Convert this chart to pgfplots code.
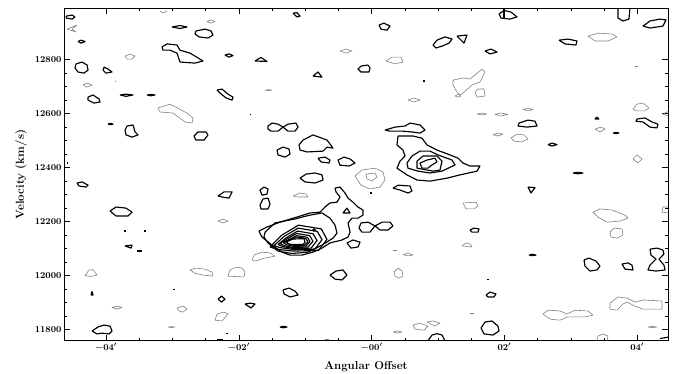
\documentclass[border=0pt]{standalone}
\usepackage{pgfplots}
\pgfplotsset{compat=1.18}
\begin{document}
\begin{tikzpicture}
\path[use as bounding box] (-64pt,-32.3pt) rectangle (610pt,340.7pt);
\begin{axis}[width=604pt, height=332.4pt, scale only axis,
 xmin=-4.633, xmax=4.464, ymin=11758, ymax=12989,
 xtick={-4,-2,0,2,4}, xticklabels={$-04'$,$-02'$,$-00'$,$02'$,$04'$},
 ytick={11800,12000,12200,12400,12600,12800},
 minor x tick num=3, minor y tick num=3,
 scaled y ticks=false,
 yticklabel style={/pgf/number format/1000 sep={}, font=\boldmath\fontsize{9}{11}\selectfont, xshift=1pt},
 xticklabel style={font=\boldmath\fontsize{9}{11}\selectfont, yshift=1pt},
 tick align=inside, major tick length=6pt, minor tick length=3pt,
 tick style={black, line width=0.6pt},
 axis line style={line width=0.9pt},
 xlabel={Angular Offset}, ylabel={Velocity (km/s)},
 label style={font=\bfseries\fontsize{11.5}{13}\selectfont},
 xlabel style={at={(axis description cs:0.5,-0.0767)}, anchor=center},
 ylabel style={at={(axis description cs:-0.0712,0.5)}, anchor=center},
 pos/.style={black, line width=1.15pt, line join=round, mark=none},
 neg/.style={black!50, line width=0.6pt, line join=round, mark=none},
 ]
% ---------- positive (black) contours ----------
\addplot[pos] coordinates {(-4.60,12960)(-4.51,12964)(-4.47,12957)(-4.51,12949)(-4.60,12953)(-4.60,12960)};
\addplot[pos] coordinates {(-4.422,12866)(-4.377,12871)(-4.316,12866)(-4.377,12860)(-4.422,12866)};
\addplot[pos] coordinates {(-4.452,12783)(-4.361,12790)(-4.286,12779)(-4.271,12760)(-4.331,12749)(-4.422,12753)(-4.467,12768)(-4.452,12783)};
\addplot[pos] coordinates {(-4.030,12771)(-3.970,12764)(-3.910,12753)(-4.0,12749)(-4.045,12760)(-4.030,12771)};
\addplot[pos] coordinates {(-4.271,12660)(-4.196,12668)(-4.105,12653)(-4.090,12642)(-4.181,12638)(-4.271,12649)(-4.271,12660)};
\addplot[pos] coordinates {(-3.789,12668)(-3.699,12671)(-3.593,12668)(-3.699,12663)(-3.789,12668)};
\addplot[pos] coordinates {(-3.383,12668)(-3.322,12670)(-3.262,12668)(-3.322,12665)(-3.383,12668)};
\addplot[pos] coordinates {(-3.970,12560)(-3.932,12563)(-3.895,12560)(-3.932,12558)(-3.970,12560)};
\addplot[pos] coordinates {(-3.714,12538)(-3.684,12553)(-3.593,12557)(-3.563,12531)(-3.518,12520)(-3.608,12512)(-3.699,12520)(-3.714,12538)};
\addplot[pos] coordinates {(-2.675,12516)(-2.614,12531)(-2.494,12531)(-2.464,12520)(-2.524,12501)(-2.645,12501)(-2.675,12516)};
\addplot[pos] coordinates {(-3.157,12846)(-3.081,12857)(-2.931,12853)(-2.886,12834)(-2.735,12823)(-2.539,12794)(-2.660,12786)(-2.886,12790)(-2.931,12823)(-3.036,12834)(-3.142,12834)(-3.157,12846)};
\addplot[pos] coordinates {(-3.006,12920)(-2.886,12925)(-2.780,12920)(-2.886,12914)(-3.006,12920)};
\addplot[pos] coordinates {(-2.645,12905)(-2.509,12912)(-2.419,12905)(-2.389,12890)(-2.464,12879)(-2.599,12883)(-2.660,12894)(-2.645,12905)};
\addplot[pos] coordinates {(-2.208,12816)(-2.148,12820)(-2.087,12814)(-2.148,12808)(-2.208,12816)};
\addplot[pos] coordinates {(-1.756,12794)(-1.666,12807)(-1.575,12792)(-1.756,12794)};
\addplot[pos] coordinates {(-2.328,12686)(-2.253,12690)(-2.163,12671)(-2.087,12660)(-2.102,12649)(-2.193,12657)(-2.283,12675)(-2.328,12686)};
\addplot[pos] coordinates {(-1.839,12597)(-1.816,12597)};
\addplot[pos] coordinates {(-1.334,12549)(-1.410,12560)(-1.500,12564)(-1.560,12553)(-1.560,12542)(-1.515,12534)(-1.410,12534)(-1.334,12549)(-1.259,12560)(-1.139,12564)(-1.108,12549)(-1.154,12534)(-1.259,12534)(-1.334,12549)};
\addplot[pos] coordinates {(-1.093,12483)(-1.033,12501)(-0.883,12520)(-0.672,12501)(-0.581,12471)(-0.672,12475)(-0.732,12460)(-0.973,12457)(-1.078,12464)(-1.093,12483)};
\addplot[pos] coordinates {(-1.425,12464)(-1.334,12475)(-1.244,12468)(-1.229,12449)(-1.304,12438)(-1.410,12446)(-1.425,12464)};
\addplot[pos] coordinates {(-0.807,12434)(-0.702,12438)(-0.627,12427)(-0.642,12416)(-0.762,12420)(-0.807,12434)};
\addplot[pos] coordinates {(-0.506,12427)(-0.416,12438)(-0.325,12431)(-0.250,12416)(-0.340,12405)(-0.476,12408)(-0.506,12427)};
\addplot[pos] coordinates {(-1.184,12971)(-1.124,12973)(-1.078,12960)(-1.124,12957)(-1.184,12971)};
\addplot[pos] coordinates {(-0.883,12738)(-0.807,12753)(-0.747,12734)(-0.883,12738)};
\addplot[pos] coordinates {(-0.054,12779)(-0.160,12775)(-0.205,12764)(-0.160,12753)(-0.039,12753)(-0.024,12768)(-0.054,12779)};
\addplot[pos] coordinates {(-4.595,12416)(-4.572,12416)};
\addplot[pos] coordinates {(0.111,12927)(0.186,12934)(0.277,12923)(0.232,12908)(0.141,12912)(0.111,12927)};
\addplot[pos] coordinates {(1.919,12968)(1.994,12981)(2.099,12975)(2.190,12957)(2.084,12949)(1.949,12953)(1.919,12968)};
\addplot[pos] coordinates {(1.994,12989)(1.994,12953)};
\addplot[pos] coordinates {(0.925,12853)(0.985,12871)(1.105,12883)(1.211,12875)(1.166,12860)(1.060,12849)(0.970,12842)(0.925,12853)};
\addplot[pos] coordinates {(1.286,12886)(1.437,12890)(1.391,12860)(1.286,12886)};
\addplot[pos] coordinates {(1.708,12831)(1.798,12838)(1.889,12827)(1.783,12820)(1.708,12831)};
\addplot[pos] coordinates {(0.774,12720)(0.804,12720)};
\addplot[pos] coordinates {(2.220,12564)(2.355,12575)(2.461,12571)(2.491,12553)(2.340,12549)(2.205,12553)(2.220,12564)};
\addplot[pos] coordinates {(2.657,12484)(2.717,12490)(2.792,12484)(2.717,12479)(2.657,12484)};
\addplot[pos] coordinates {(2.822,12871)(2.958,12875)(3.093,12868)(3.078,12853)(2.913,12857)(2.822,12871)};
\addplot[pos] coordinates {(3.711,12989)(3.711,12953)(3.786,12942)(3.876,12949)(3.891,12989)};
\addplot[pos] coordinates {(4.087,12923)(4.193,12942)(4.343,12949)(4.434,12946)(4.388,12923)(4.193,12916)(4.087,12923)};
\addplot[pos] coordinates {(3.364,12579)(3.394,12586)(3.424,12579)(3.364,12579)};
\addplot[pos] coordinates {(3.997,12579)(4.117,12583)(4.223,12568)(4.313,12560)(4.298,12546)(4.193,12549)(4.087,12568)(3.982,12571)(3.997,12579)};
\addplot[pos] coordinates {(3.635,12527)(3.681,12529)(3.726,12527)(3.681,12525)(3.635,12527)};
% central-right source
\addplot[pos] coordinates {(0.202,12538)(0.352,12549)(0.503,12553)(0.578,12564)(0.729,12557)(0.804,12538)(0.729,12527)(0.608,12531)(0.473,12534)(0.277,12534)(0.202,12538)};
\addplot[pos] coordinates {(0.398,12516)(0.623,12516)(0.759,12508)(0.834,12483)(0.985,12464)(1.181,12446)(1.301,12434)(1.376,12416)(1.482,12405)(1.632,12405)(1.587,12386)(1.331,12372)(1.135,12360)(0.879,12349)(0.684,12353)(0.533,12372)(0.382,12397)(0.428,12423)(0.503,12442)(0.473,12464)(0.382,12483)(0.398,12516)};
\addplot[pos] coordinates {(0.608,12442)(0.729,12460)(0.879,12460)(1.000,12446)(1.211,12427)(1.256,12409)(1.060,12386)(0.879,12379)(0.698,12386)(0.548,12397)(0.533,12416)(0.608,12442)};
\addplot[pos] coordinates {(0.684,12423)(0.774,12442)(0.985,12442)(1.060,12423)(1.030,12390)(0.925,12386)(0.834,12390)(0.684,12397)(0.684,12423)};
\addplot[pos] coordinates {(0.729,12416)(0.834,12427)(0.955,12434)(0.985,12420)(0.910,12409)(0.849,12397)(0.759,12397)(0.729,12416)};
% main source
\addplot[pos] coordinates {(-0.551,12323)(-0.476,12327)(-0.401,12305)(-0.355,12286)(-0.280,12271)(-0.205,12253)(-0.130,12242)(-0.130,12223)(-0.205,12212)(-0.295,12212)(-0.355,12194)(-0.325,12160)(-0.355,12142)(-0.446,12131)(-0.627,12120)(-0.747,12101)(-0.883,12086)(-1.048,12075)(-1.229,12075)(-1.349,12086)(-1.500,12112)(-1.651,12142)(-1.696,12164)(-1.575,12179)(-1.380,12197)(-1.124,12216)(-0.928,12231)(-0.777,12234)(-0.702,12253)(-0.627,12268)(-0.521,12271)(-0.476,12290)(-0.536,12309)(-0.551,12323)};
\addplot[pos] coordinates {(-1.605,12160)(-1.455,12194)(-1.154,12209)(-0.928,12223)(-0.747,12231)(-0.627,12212)(-0.551,12186)(-0.521,12157)(-0.581,12138)(-0.747,12112)(-0.958,12086)(-1.199,12081)(-1.410,12090)(-1.560,12120)(-1.621,12142)(-1.605,12160)};
\addplot[pos] coordinates {(-1.530,12105)(-1.359,12148)(-1.101,12186)(-0.758,12172)(-0.672,12133)(-0.800,12092)(-1.187,12090)(-1.428,12097)(-1.530,12105)};
\addplot[pos] coordinates {(-1.470,12110)(-1.325,12143)(-1.108,12175)(-0.819,12163)(-0.747,12132)(-0.855,12097)(-1.181,12096)(-1.383,12103)(-1.470,12110)};
\addplot[pos] coordinates {(-1.410,12114)(-1.292,12138)(-1.116,12164)(-0.881,12154)(-0.822,12129)(-0.910,12101)(-1.175,12099)(-1.339,12107)(-1.410,12114)};
\addplot[pos] coordinates {(-1.380,12118)(-1.280,12134)(-1.131,12155)(-0.932,12147)(-0.883,12126)(-0.958,12105)(-1.181,12103)(-1.319,12110)(-1.380,12118)};
\addplot[pos] coordinates {(-1.334,12122)(-1.253,12131)(-1.131,12147)(-0.968,12141)(-0.928,12125)(-0.988,12109)(-1.172,12107)(-1.286,12114)(-1.334,12122)};
\addplot[pos] coordinates {(-1.304,12125)(-1.235,12129)(-1.131,12142)(-0.993,12137)(-0.958,12124)(-1.009,12112)(-1.166,12110)(-1.262,12118)(-1.304,12125)};
\addplot[pos] coordinates {(-1.274,12120)(-1.244,12134)(-1.018,12136)(-1.003,12123)(-1.033,12114)(-1.229,12114)(-1.274,12120)};
\addplot[pos] coordinates {(-0.887,12168)(-0.867,12172)(-0.847,12168)(-0.867,12164)(-0.887,12168)};
\addplot[pos] coordinates {(-0.431,12231)(-0.371,12249)(-0.325,12231)(-0.431,12231)};
\addplot[pos] coordinates {(-0.371,12120)(-0.280,12131)(-0.175,12123)(-0.205,12105)(-0.310,12101)(-0.371,12120)};
\addplot[pos] coordinates {(0.051,12183)(-0.054,12197)(-0.160,12194)(-0.190,12175)(-0.145,12160)(-0.024,12160)(0.051,12183)(0.157,12197)(0.277,12197)(0.322,12183)(0.247,12168)(0.126,12168)(0.051,12183)};
\addplot[pos] coordinates {(-0.019,12305)(0.001,12305)};
% lower-left
\addplot[pos] coordinates {(-4.437,12342)(-4.361,12346)(-4.271,12334)(-4.301,12327)(-4.407,12331)(-4.437,12342)};
\addplot[pos] coordinates {(-3.940,12238)(-3.849,12253)(-3.699,12249)(-3.608,12234)(-3.669,12220)(-3.849,12220)(-3.940,12238)};
\addplot[pos] coordinates {(-3.724,12164)(-3.704,12164)};
\addplot[pos] coordinates {(-3.423,12164)(-3.403,12164)};
\addplot[pos] coordinates {(-3.714,12109)(-3.608,12112)(-3.624,12101)(-3.714,12109)};
\addplot[pos] coordinates {(-3.533,12090)(-3.458,12090)};
\addplot[pos] coordinates {(-4.226,11927)(-4.211,11940)(-4.196,11927)(-4.226,11927)};
\addplot[pos] coordinates {(-4.211,11794)(-4.120,11809)(-4.030,11816)(-3.940,11812)(-3.910,11794)(-3.955,11783)(-4.060,11786)(-4.136,11783)(-4.211,11794)};
\addplot[pos] coordinates {(-2.991,11949)(-2.961,11949)};
\addplot[pos] coordinates {(-2.313,12294)(-2.223,12309)(-2.102,12309)(-2.148,12286)(-2.253,12290)(-2.313,12294)};
\addplot[pos] coordinates {(-1.681,12316)(-1.621,12327)(-1.560,12320)(-1.575,12301)(-1.651,12297)(-1.681,12316)};
\addplot[pos] coordinates {(-1.681,12260)(-1.636,12283)(-1.560,12286)(-1.530,12264)(-1.560,12246)(-1.666,12246)(-1.681,12260)};
\addplot[pos] coordinates {(-1.078,12360)(-0.988,12375)(-0.853,12379)(-0.747,12372)(-0.732,12353)(-0.853,12342)(-1.003,12346)(-1.078,12360)};
\addplot[pos] coordinates {(-2.313,11912)(-2.261,11923)(-2.208,11912)(-2.261,11901)(-2.313,11912)};
\addplot[pos] coordinates {(-1.907,11894)(-1.831,11897)(-1.756,11894)(-1.816,11879)(-1.907,11894)};
\addplot[pos] coordinates {(-1.334,11946)(-1.244,11953)(-1.154,11942)(-1.108,11927)(-1.229,11920)(-1.319,11931)(-1.334,11946)};
\addplot[pos] coordinates {(-0.627,12001)(-0.536,12016)(-0.431,12020)(-0.371,12001)(-0.446,11983)(-0.551,11986)(-0.627,12001)};
\addplot[pos] coordinates {(-1.380,11808.5)(-1.327,11811)(-1.274,11808.5)(-1.327,11806)(-1.380,11808.5)};
\addplot[pos] coordinates {(-2.328,11762)(-2.238,11762)};
\addplot[pos] coordinates {(-2.188,11786)(-2.168,11786)};
% lower-right
\addplot[pos] coordinates {(0.322,12323)(0.398,12334)(0.578,12331)(0.608,12312)(0.548,12305)(0.428,12316)(0.322,12323)};
\addplot[pos] coordinates {(3.033,12379)(3.108,12381.5)(3.184,12379)(3.108,12376.3)(3.033,12379)};
\addplot[pos] coordinates {(2.355,12327)(2.461,12325)(2.401,12305)(2.355,12327)};
\addplot[pos] coordinates {(1.482,12168)(1.542,12175)(1.617,12172)(1.602,12160)(1.512,12160)(1.482,12168)};
\addplot[pos] coordinates {(2.370,12075)(2.423,12078)(2.476,12075)(2.423,12073)(2.370,12075)};
\addplot[pos] coordinates {(3.199,12057)(3.274,12064)(3.379,12053)(3.440,12034)(3.394,12020)(3.289,12016)(3.214,12034)(3.199,12057)};
\addplot[pos] coordinates {(3.771,12042)(3.861,12046)(3.921,12038)(3.937,12020)(3.816,12023)(3.771,12042)};
\addplot[pos] coordinates {(4.193,12097)(4.298,12101)(4.388,12094)(4.403,12079)(4.328,12060)(4.403,12038)(4.419,12020)(4.283,12016)(4.163,12020)(4.193,12038)(4.283,12060)(4.208,12075)(4.193,12097)};
\addplot[pos] coordinates {(1.738,11986)(1.768,11986)};
\addplot[pos] coordinates {(1.723,11927)(1.783,11938)(1.873,11931)(1.843,11920)(1.753,11920)(1.723,11927)};
\addplot[pos] coordinates {(1.648,11805)(1.708,11827)(1.813,11831)(1.903,11812)(1.919,11794)(1.828,11779)(1.693,11783)(1.648,11805)};
\addplot[pos] coordinates {(0.849,11758)(0.910,11779)(0.985,11784)(1.060,11779)(1.105,11758)};
\addplot[pos] coordinates {(4.343,11766)(4.464,11771)};
% ---------- negative (grey) contours ----------
\addplot[neg] coordinates {(-4.587,12912)(-4.437,12927)(-4.512,12912)(-4.452,12901)(-4.587,12912)};
\addplot[neg] coordinates {(-4.346,12705)(-4.286,12712)(-4.211,12705)(-4.286,12697)(-4.346,12705)};
\addplot[neg] coordinates {(-3.87,12720)(-3.85,12720)};
\addplot[neg] coordinates {(-3.217,12620)(-3.036,12634)(-2.780,12601)(-2.690,12583)(-2.705,12564)(-2.810,12568)(-2.991,12601)(-3.187,12605)(-3.217,12620)};
\addplot[neg] coordinates {(-2.479,12940)(-2.419,12946)(-2.358,12940)(-2.419,12934)(-2.479,12940)};
\addplot[neg] coordinates {(-3.187,12979)(-3.142,12971)(-3.081,12979)};
\addplot[neg] coordinates {(-3.714,12812)(-3.639,12820)(-3.563,12812)(-3.608,12801)(-3.684,12801)(-3.714,12812)};
\addplot[neg] coordinates {(-1.605,12686)(-1.553,12688)(-1.500,12686)(-1.553,12684)(-1.605,12686)};
\addplot[neg] coordinates {(-0.476,12831)(-0.386,12838)(-0.295,12831)(-0.386,12823)(-0.476,12831)};
\addplot[neg] coordinates {(0.217,12794)(0.307,12808)(0.443,12808)(0.473,12790)(0.352,12783)(0.217,12794)};
\addplot[neg] coordinates {(1.226,12723)(1.376,12731)(1.482,12727)(1.557,12742)(1.663,12764)(1.708,12753)(1.632,12716)(1.512,12705)(1.376,12675)(1.331,12668)(1.286,12679)(1.226,12705)(1.226,12723)};
\addplot[neg] coordinates {(1.256,12664)(1.301,12671)(1.346,12664)(1.301,12660)(1.256,12664)};
\addplot[neg] coordinates {(1.557,12679)(1.602,12690)(1.693,12690)(1.708,12664)(1.587,12660)(1.557,12679)};
\addplot[neg] coordinates {(0.548,12649)(0.638,12657)(0.729,12649)(0.638,12642)(0.548,12649)};
\addplot[neg] coordinates {(1.587,12597)(1.663,12601)(1.738,12597)(1.663,12594)(1.587,12597)};
\addplot[neg] coordinates {(1.858,12596)(1.949,12601)(2.054,12596)(1.949,12590)(1.858,12596)};
\addplot[neg] coordinates {(2.280,12614)(2.355,12620)(2.431,12614)(2.355,12609)(2.280,12614)};
\addplot[neg] coordinates {(1.828,12521)(1.903,12527)(1.979,12523)(1.903,12516)(1.828,12521)};
\addplot[neg] coordinates {(2.099,12509)(2.190,12523)(2.295,12520)(2.355,12505)(2.265,12494)(2.144,12497)(2.099,12509)};
\addplot[neg] coordinates {(3.259,12886)(3.410,12897)(3.620,12894)(3.696,12883)(3.560,12868)(3.364,12868)(3.259,12886)};
\addplot[neg] coordinates {(3.967,12775)(4.012,12775)};
\addplot[neg] coordinates {(3.937,12616)(3.997,12634)(4.087,12638)(4.178,12620)(4.117,12609)(3.982,12609)(3.937,12616)};
\addplot[neg] coordinates {(3.364,12542)(3.455,12549)(3.515,12542)(3.440,12531)(3.364,12542)};
\addplot[neg] coordinates {(3.937,12431)(3.997,12446)(4.072,12431)(4.012,12416)(3.937,12431)};
\addplot[neg] coordinates {(4.48,12609)(4.388,12597)(4.48,12590)};
\addplot[neg] coordinates {(-0.250,12368)(-0.145,12390)(0.051,12397)(0.172,12383)(0.202,12353)(0.126,12327)(-0.024,12320)(-0.160,12334)(-0.250,12368)};
\addplot[neg] coordinates {(-0.084,12375)(0.051,12379)(0.081,12364)(0.006,12349)(-0.069,12357)(-0.084,12375)};
\addplot[neg] coordinates {(-4.316,11999)(-4.256,12020)(-4.196,12021)(-4.136,12001)(-4.226,11996)(-4.316,11999)};
\addplot[neg] coordinates {(-3.910,11881)(-3.834,11886)(-3.759,11881)(-3.834,11875)(-3.910,11881)};
\addplot[neg] coordinates {(-2.931,11879)(-2.840,11886)(-2.780,11875)(-2.840,11864)(-2.901,11868)(-2.931,11879)};
\addplot[neg] coordinates {(-3.066,11808.5)(-3.014,11810.4)(-2.961,11808.5)(-3.014,11806.6)(-3.066,11808.5)};
\addplot[neg] coordinates {(-2.735,12020)(-2.645,12027)(-2.509,12023)(-2.404,12012)(-2.389,11997)(-2.539,12001)(-2.660,12008)(-2.735,12020)};
\addplot[neg] coordinates {(-2.163,11997)(-2.133,12020)(-2.042,12031)(-1.952,12027)(-1.907,12012)(-1.922,11994)(-2.163,11997)};
\addplot[neg] coordinates {(-2.313,12201)(-2.238,12208)(-2.163,12201)(-2.238,12194)(-2.313,12201)};
\addplot[neg] coordinates {(-1.184,12294)(-1.078,12305)(-0.988,12301)(-0.958,12290)(-1.108,12290)(-1.184,12294)};
\addplot[neg] coordinates {(-1.801,12057)(-1.771,12075)(-1.651,12086)(-1.530,12083)(-1.455,12071)(-1.605,12064)(-1.741,12053)(-1.801,12057)};
\addplot[neg] coordinates {(-2.358,11834)(-2.328,11857)(-2.223,11864)(-2.163,11857)(-2.253,11831)(-2.358,11834)};
\addplot[neg] coordinates {(-0.70,11764)(-0.64,11764)};
\addplot[neg] coordinates {(1.376,12268)(1.572,12271)(1.602,12257)(1.542,12246)(1.422,12246)(1.376,12268)};
\addplot[neg] coordinates {(3.334,12234)(3.440,12246)(3.620,12242)(3.816,12223)(3.861,12212)(3.741,12201)(3.545,12197)(3.410,12216)(3.334,12234)};
\addplot[neg] coordinates {(4.48,12253)(4.388,12253)(4.373,12234)(4.48,12231)};
\addplot[neg] coordinates {(3.590,12160)(3.650,12175)(3.771,12172)(3.786,12149)(3.696,12138)(3.605,12142)(3.590,12160)};
\addplot[neg] coordinates {(1.361,12109)(1.422,12120)(1.482,12116)(1.512,12105)(1.361,12109)};
\addplot[neg] coordinates {(0.322,12094)(0.382,12094)};
\addplot[neg] coordinates {(0.473,12077)(0.548,12083)(0.623,12075)(0.548,12072)(0.473,12077)};
\addplot[neg] coordinates {(0.337,12012)(0.398,12027)(0.458,12016)(0.473,11997)(0.413,11990)(0.352,11997)(0.337,12012)};
\addplot[neg] coordinates {(3.590,11897)(3.711,11920)(3.846,11916)(3.967,11901)(4.087,11909)(4.373,11905)(4.373,11875)(4.087,11875)(3.967,11886)(3.846,11901)(3.786,11894)(3.696,11871)(3.590,11875)(3.590,11897)};
\addplot[neg] coordinates {(2.581,11857)(2.657,11871)(2.837,11868)(2.943,11857)(3.063,11871)(3.259,11868)(3.334,11853)(3.214,11846)(2.958,11846)(2.837,11834)(2.687,11838)(2.581,11857)};
\addplot[neg] coordinates {(0.623,11816)(0.729,11823)(0.849,11812)(0.789,11797)(0.653,11801)(0.623,11816)};
\addplot[neg] coordinates {(0.834,11827)(0.925,11831)(1.030,11823)(0.955,11812)(0.834,11827)};
\addplot[neg] coordinates {(1.482,11860)(1.542,11860)};
\addplot[neg] coordinates {(0.322,11790)(0.390,11794)(0.458,11790)(0.390,11786)(0.322,11790)};
\addplot[neg] coordinates {(3.394,11758)(3.410,11775)(3.485,11783)(3.560,11775)(3.545,11758)};
\addplot[neg] coordinates {(4.163,11808.5)(4.231,11811)(4.298,11808.5)(4.231,11806)(4.163,11808.5)};
\end{axis}
\end{tikzpicture}
\end{document}
